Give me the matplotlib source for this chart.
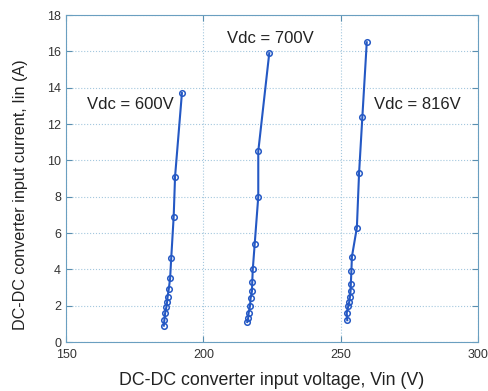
import matplotlib
matplotlib.use("Agg")
import matplotlib.pyplot as plt

plt.rcParams['font.family'] = ['Liberation Sans', 'DejaVu Sans']

# Converter input voltage (V) and current (A) for three DC-link voltages
vin_600 = [185.6, 185.8, 186.1, 186.5, 186.8, 187.0, 187.4, 187.9, 188.3, 189.2, 189.7, 192.2]
iin_600 = [0.9, 1.2, 1.6, 1.9, 2.2, 2.5, 2.9, 3.5, 4.6, 6.9, 9.1, 13.7]

vin_700 = [216.0, 216.3, 216.5, 217.0, 217.2, 217.7, 217.8, 218.0, 218.7, 220.0, 220.0, 224.0]
iin_700 = [1.1, 1.3, 1.6, 2.0, 2.4, 2.8, 3.3, 4.0, 5.4, 8.0, 10.5, 15.9]

vin_816 = [252.4, 252.2, 252.8, 253.1, 253.4, 253.6, 253.7, 253.9, 254.1, 255.9, 256.7, 257.9, 259.5]
iin_816 = [1.2, 1.6, 2.0, 2.2, 2.5, 2.8, 3.2, 3.9, 4.7, 6.3, 9.3, 12.4, 16.5]

labels = ["Vdc = 600V", "Vdc = 700V", "Vdc = 816V"]
label_pos = [(173.5, 13.1), (224.3, 16.7), (278.0, 13.1)]

x_ticks = [150, 200, 250, 300]
y_ticks = [0, 2, 4, 6, 8, 10, 12, 14, 16, 18]

fig = plt.figure(figsize=(4.89, 3.91), dpi=100)
ax = fig.add_axes([0.135, 0.1253, 0.8425, 0.8363])

line_color = '#2458c4'
for vin, iin in [(vin_600, iin_600), (vin_700, iin_700), (vin_816, iin_816)]:
    ax.plot(vin, iin, '-o', color=line_color, lw=1.5, ms=4,
            mfc='none', mec=line_color, mew=1.1)

for txt, (x, y) in zip(labels, label_pos):
    ax.text(x, y, txt, ha='center', va='center', fontsize=12, color='#222222')

ax.set_xlim(150, 300)
ax.set_ylim(0, 18)
ax.set_xticks(x_ticks)
ax.set_yticks(y_ticks)
ax.tick_params(direction='in', labelsize=9, colors='#5a8fb0', labelcolor='#333333',
               length=4, top=True, right=True)
ax.tick_params(axis='x', pad=5)
ax.grid(True, color='#a4c8de', linestyle=':', linewidth=0.8)
for s in ax.spines.values():
    s.set_color('#6a9fc0')
    s.set_linewidth(0.8)

ax.set_xlabel("DC-DC converter input voltage, Vin (V)", fontsize=12.8, color='#222222', labelpad=8)
ax.set_ylabel("DC-DC converter input current, Iin (A)", fontsize=11.6, color='#222222')
ax.yaxis.set_label_coords(-0.093, 0.45)

fig.savefig("out.png", dpi=100)
